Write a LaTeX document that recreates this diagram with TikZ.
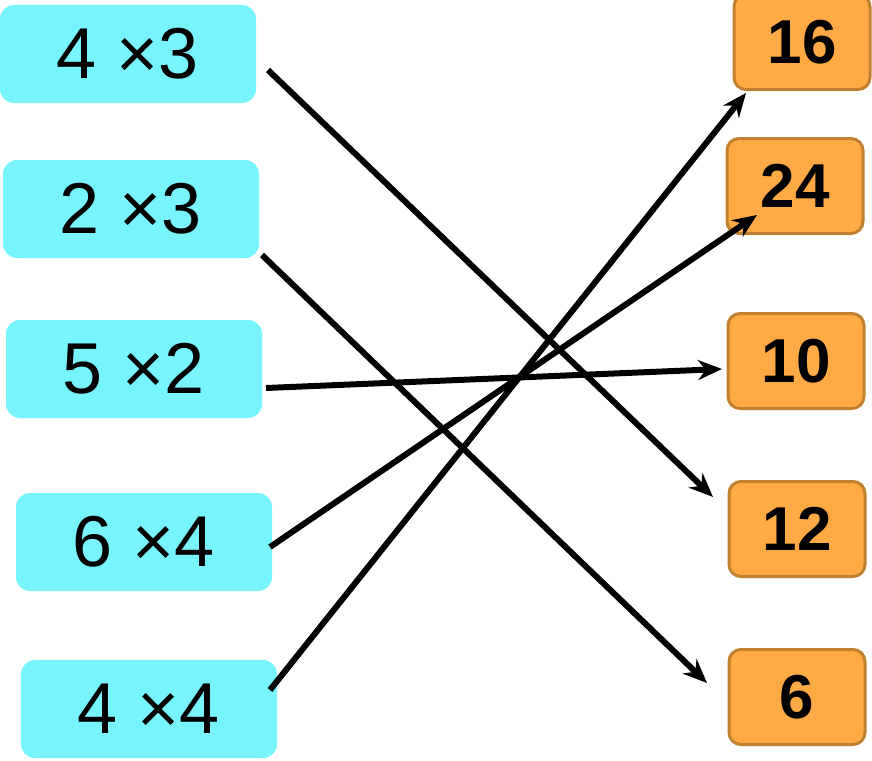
\documentclass[tikz,border=0pt]{standalone}
\usepackage{fontspec}
\setmainfont{Liberation Sans}
\usetikzlibrary{arrows.meta}
\definecolor{boxcyan}{RGB}{120,244,255}
\definecolor{boxorange}{RGB}{255,170,68}
\definecolor{edgeorange}{RGB}{192,128,48}
\begin{document}
\begin{tikzpicture}[x=1pt,y=-1pt,
   product/.style={fill=boxcyan,rounded corners=14pt,minimum width=256pt,minimum height=98pt,
      font=\fontsize{72}{76}\selectfont,inner sep=0pt},
   answer/.style={fill=boxorange,draw=edgeorange,line width=3pt,rounded corners=12pt,
      minimum width=136pt,minimum height=95pt,font=\fontsize{62}{66}\selectfont\bfseries,inner sep=0pt},
   match/.style={line width=6pt,-{Stealth[length=24pt,width=20pt]}}]
   \useasboundingbox (0,0) rectangle (872,760);
   % left column
   \node[product] (p_1) at (128,54)  {4 ×3};
   \node[product] (p_2) at (131,209) {2 ×3};
   \node[product] (p_3) at (134,369) {5 ×2};
   \node[product] (p_4) at (144,542) {6 ×4};
   \node[product] (p_5) at (149,709) {4 ×4};
   % right column
   \node[answer] (a_16) at (802,42)  {16};
   \node[answer] (a_24) at (795,186) {24};
   \node[answer] (a_10) at (796,361) {10};
   \node[answer] (a_12) at (797,529) {12};
   \node[answer] (a_6)  at (797,697) {6};
   % ends of the lines
   \coordinate (s_1) at (268,70);  \coordinate (t_12) at (713,497);
   \coordinate (s_2) at (262,255); \coordinate (t_6)  at (707,683);
   \coordinate (s_3) at (266,388); \coordinate (t_10) at (722,369);
   \coordinate (s_4) at (270,547); \coordinate (t_24) at (757,215);
   \coordinate (s_5) at (270,690); \coordinate (t_16) at (746,93);
    \path[match]
    (s_1) edge (t_12)
    (s_2) edge (t_6)
    (s_3) edge (t_10)
    (s_4) edge (t_24)
    (s_5) edge (t_16);
\end{tikzpicture}
\end{document}
